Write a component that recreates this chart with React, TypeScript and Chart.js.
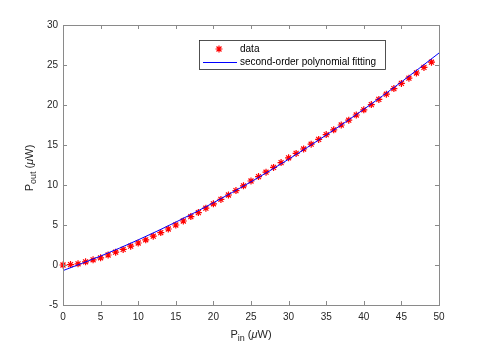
import { useEffect, useRef } from "react";
import { Chart, registerables } from "chart.js";

Chart.register(...registerables);

const pIn = [0, 1, 2, 3, 4, 5, 6, 7, 8, 9, 10, 11, 12, 13, 14, 15, 16, 17, 18, 19, 20, 21, 22, 23, 24, 25, 26, 27, 28, 29, 30, 31, 32, 33, 34, 35, 36, 37, 38, 39, 40, 41, 42, 43, 44, 45, 46, 47, 48, 49];
const pOut = [0.0, 0.05, 0.15, 0.4, 0.65, 0.9, 1.25, 1.6, 1.95, 2.35, 2.75, 3.15, 3.6, 4.05, 4.5, 5.0, 5.5, 6.05, 6.55, 7.1, 7.65, 8.2, 8.75, 9.3, 9.9, 10.5, 11.05, 11.6, 12.2, 12.8, 13.4, 13.95, 14.5, 15.1, 15.7, 16.3, 16.9, 17.5, 18.1, 18.75, 19.4, 20.05, 20.7, 21.35, 22.05, 22.7, 23.35, 24.0, 24.7, 25.35];
const fitX = [0, 5, 10, 15, 20, 25, 30, 35, 40, 45, 50];
const fitY = [-0.7, 1.12, 3.14, 5.36, 7.78, 10.4, 13.22, 16.24, 19.46, 22.88, 26.5];
const xTicks = [0, 5, 10, 15, 20, 25, 30, 35, 40, 45, 50];
const yTicks = [-5, 0, 5, 10, 15, 20, 25, 30];
const legendLabels = ["data", "second-order polynomial fitting"];

const FONT = "'Liberation Sans', Arial, Helvetica, sans-serif";

type Part = { t: string; size: number; italic?: boolean; shift?: number };

function drawParts(ctx: CanvasRenderingContext2D, parts: Part[], cx: number, baseY: number) {
  let total = 0;
  const widths = parts.map((p) => {
    ctx.font = `${p.italic ? "italic " : ""}${p.size}px ${FONT}`;
    const w = ctx.measureText(p.t).width;
    total += w;
    return w;
  });
  let x = cx - total / 2;
  ctx.textAlign = "left";
  ctx.textBaseline = "alphabetic";
  parts.forEach((p, i) => {
    ctx.font = `${p.italic ? "italic " : ""}${p.size}px ${FONT}`;
    ctx.fillText(p.t, x, baseY + (p.shift || 0));
    x += widths[i];
  });
}

export default function App() {
  const ref = useRef<HTMLCanvasElement>(null);

  useEffect(() => {
    document.body.style.margin = "0";
    const canvas = ref.current;
    if (!canvas) return;

    const matlabPlugin = {
      id: "matlabBox",
      afterDraw(chart: any) {
        const ctx: CanvasRenderingContext2D = chart.ctx;
        const { left, right, top, bottom } = chart.chartArea;
        const xs = chart.scales.x;
        const ys = chart.scales.y;
        ctx.save();
        // ticks (inward, all four sides)
        ctx.strokeStyle = "#8a8a8a";
        ctx.lineWidth = 1;
        const tl = 4;
        ctx.beginPath();
        xTicks.forEach((v) => {
          const px = Math.round(xs.getPixelForValue(v)) + 0.5;
          ctx.moveTo(px, bottom);
          ctx.lineTo(px, bottom - tl);
          ctx.moveTo(px, top);
          ctx.lineTo(px, top + tl);
        });
        yTicks.forEach((v) => {
          const py = Math.round(ys.getPixelForValue(v)) + 0.5;
          ctx.moveTo(left, py);
          ctx.lineTo(left + tl, py);
          ctx.moveTo(right, py);
          ctx.lineTo(right - tl, py);
        });
        ctx.stroke();
        // box
        ctx.strokeRect(Math.round(left) + 0.5, Math.round(top) + 0.5, Math.round(right - left), Math.round(bottom - top));

        // axis titles
        ctx.fillStyle = "#262626";
        drawParts(
          ctx,
          [
            { t: "P", size: 11 },
            { t: "in", size: 9, shift: 3 },
            { t: " (", size: 11 },
            { t: "\u03bc", size: 11, italic: true },
            { t: "W)", size: 11 },
          ],
          (left + right) / 2,
          338
        );
        ctx.save();
        ctx.translate(33, (top + bottom) / 2 + 3);
        ctx.rotate(-Math.PI / 2);
        drawParts(
          ctx,
          [
            { t: "P", size: 11 },
            { t: "out", size: 9, shift: 3 },
            { t: " (", size: 11 },
            { t: "\u03bc", size: 11, italic: true },
            { t: "W)", size: 11 },
          ],
          0,
          0
        );
        ctx.restore();

        // legend
        const lx = 199.5, ly = 40.5, lw = 186, lh = 29;
        ctx.fillStyle = "#ffffff";
        ctx.fillRect(lx, ly, lw, lh);
        ctx.strokeStyle = "#262626";
        ctx.lineWidth = 0.8;
        ctx.strokeRect(lx, ly, lw, lh);
        const y1 = 49, y2 = 62.5;
        // star marker
        ctx.strokeStyle = "#ff0000";
        ctx.lineWidth = 1.2;
        const r = 3.5, mx = 219;
        ctx.beginPath();
        ctx.moveTo(mx - r, y1); ctx.lineTo(mx + r, y1);
        ctx.moveTo(mx, y1 - r); ctx.lineTo(mx, y1 + r);
        const d = r * 0.7071;
        ctx.moveTo(mx - d, y1 - d); ctx.lineTo(mx + d, y1 + d);
        ctx.moveTo(mx - d, y1 + d); ctx.lineTo(mx + d, y1 - d);
        ctx.stroke();
        // line sample
        ctx.strokeStyle = "#0000ff";
        ctx.lineWidth = 1;
        ctx.beginPath();
        ctx.moveTo(203, y2);
        ctx.lineTo(237, y2);
        ctx.stroke();
        ctx.fillStyle = "#000000";
        ctx.font = `10px ${FONT}`;
        ctx.textAlign = "left";
        ctx.textBaseline = "middle";
        ctx.fillText(legendLabels[0], 240, y1);
        ctx.fillText(legendLabels[1], 240, y2);
        ctx.restore();
      },
    };

    const chart = new Chart(canvas, {
      type: "scatter",
      data: {
        datasets: [
          {
            label: legendLabels[1],
            data: fitX.map((x, i) => ({ x, y: fitY[i] })),
            showLine: true,
            borderColor: "#0000ff",
            borderWidth: 1,
            pointRadius: 0,
            cubicInterpolationMode: "monotone",
            order: 0,
            clip: false as any,
          },
          {
            label: legendLabels[0],
            data: pIn.map((x, i) => ({ x, y: pOut[i] })),
            showLine: false,
            pointStyle: "star",
            pointRadius: 3.5,
            borderColor: "#ff0000",
            backgroundColor: "#ff0000",
            borderWidth: 1.2,
            order: 1,
            clip: false as any,
          },
        ],
      },
      options: {
        responsive: false,
        animation: false,
        layout: { padding: { left: 0, top: 25, right: 46, bottom: 0 } },
        plugins: { legend: { display: false }, tooltip: { enabled: false } },
        scales: {
          x: {
            type: "linear",
            min: 0,
            max: 50,
            grid: { display: false, drawTicks: false },
            border: { display: false },
            afterFit: (s: any) => {
              s.height = 41;
            },
            ticks: {
              stepSize: 5,
              autoSkip: false,
              maxRotation: 0,
              padding: 6,
              color: "#262626",
              font: { family: FONT, size: 10 },
            },
          },
          y: {
            type: "linear",
            min: -5,
            max: 30,
            grid: { display: false, drawTicks: false },
            border: { display: false },
            afterFit: (s: any) => {
              s.width = 63;
            },
            ticks: {
              stepSize: 5,
              autoSkip: false,
              padding: 5,
              color: "#262626",
              font: { family: FONT, size: 10 },
            },
          },
        },
      },
      plugins: [matlabPlugin],
    });

    return () => chart.destroy();
  }, []);

  return <canvas ref={ref} width={485} height={346} style={{ display: "block" }} />;
}
